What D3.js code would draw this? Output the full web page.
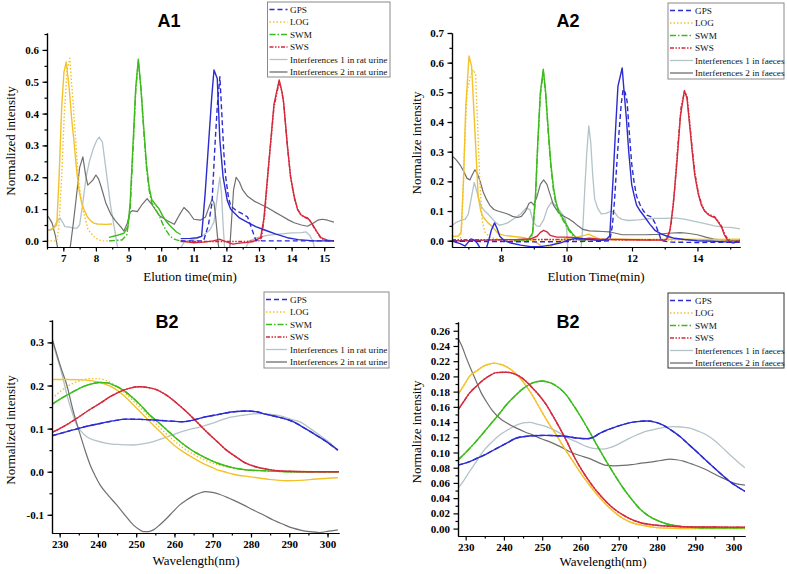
<!DOCTYPE html>
<html><head><meta charset="utf-8">
<script src="https://cdn.jsdelivr.net/npm/d3@7"></script>
<style>body{margin:0;background:#fff} text{font-family:"Liberation Serif","Times New Roman",serif}</style>
</head><body>
<svg id="c" width="787" height="574"></svg>
<script>
// ---------- DATA ----------
const legendUrine = ["GPS","LOG","SWM","SWS","Interferences 1 in rat urine","Interferences 2 in rat urine"];
const legendFaeces = ["GPS","LOG","SWM","SWS","Interferences 1 in faeces","Interferences 2 in faeces"];
const seriesKeys = ["GPS","LOG","SWM","SWS","INT1","INT2"];

const a1XTicks = [7,8,9,10,11,12,13,14,15];
const a1YTicks = [0,0.1,0.2,0.3,0.4,0.5,0.6];
const a2XTicks = [8,10,12,14];
const a2YTicks = [0,0.1,0.2,0.3,0.4,0.5,0.6,0.7];
const bXTicks = [230,240,250,260,270,280,290,300];
const b1YTicks = [-0.1,0,0.1,0.2,0.3];
const b2YTicks = [0,0.02,0.04,0.06,0.08,0.10,0.12,0.14,0.16,0.18,0.20,0.22,0.24,0.26];

// A1 (rat urine chromatograms)
const a1_LOG = [[6.5,0.034],[6.6,0.036],[6.7,0.04],[6.8,0.05],[6.87,0.2],[6.95,0.42],[7.02,0.53],[7.09,0.562],[7.18,0.48],[7.26,0.38],[7.33,0.31],[7.41,0.22],[7.48,0.16],[7.56,0.12],[7.64,0.097],[7.74,0.075],[7.84,0.063],[7.94,0.056],[8.04,0.053],[8.3,0.052],[8.5,0.053]];
const a1_LOG_std = [[6.5,0.0],[6.8,0.0],[6.86,0.04],[6.95,0.2],[7.03,0.4],[7.12,0.54],[7.2,0.574],[7.25,0.5],[7.29,0.45],[7.37,0.33],[7.45,0.21],[7.52,0.15],[7.6,0.1],[7.76,0.035],[7.97,0.01],[8.17,0.0],[8.5,0.0]];
const a1_SWM = [[8.4,0.011],[8.6,0.016],[8.86,0.024],[8.98,0.045],[9.05,0.12],[9.15,0.33],[9.22,0.48],[9.3,0.571],[9.38,0.48],[9.47,0.35],[9.55,0.24],[9.63,0.17],[9.71,0.13],[9.82,0.115],[9.94,0.1],[10.04,0.08],[10.14,0.064],[10.25,0.05],[10.35,0.04],[10.47,0.028],[10.6,0.02]];
const a1_SWM_std = [[8.4,0.0],[8.8,0.003],[8.95,0.02],[9.05,0.1],[9.15,0.31],[9.22,0.47],[9.3,0.565],[9.38,0.48],[9.47,0.34],[9.55,0.23],[9.63,0.16],[9.71,0.12],[9.82,0.1],[9.94,0.08],[10.04,0.055],[10.14,0.035],[10.25,0.018],[10.35,0.008],[10.47,0.003],[10.6,0.0]];
const a1_GPS = [[10.6,0.007],[10.9,0.008],[11.1,0.01],[11.24,0.014],[11.35,0.15],[11.45,0.3],[11.55,0.45],[11.62,0.537],[11.72,0.51],[11.8,0.317],[11.9,0.2],[12.03,0.126],[12.13,0.1],[12.23,0.089],[12.4,0.072],[12.65,0.058],[12.9,0.045],[13.26,0.031],[13.5,0.022],[13.87,0.01],[14.2,0.004],[14.69,0.0],[15.3,0.0]];
const a1_GPS_std = [[10.6,0.0],[11.3,0.0],[11.45,0.05],[11.56,0.12],[11.65,0.3],[11.72,0.42],[11.8,0.516],[11.86,0.4],[11.92,0.28],[11.98,0.2],[12.06,0.14],[12.13,0.11],[12.3,0.095],[12.44,0.088],[12.55,0.082],[12.65,0.075],[12.72,0.055],[12.8,0.032],[12.9,0.003],[13.1,0.0],[15.3,0.0]];
const a1_SWS = [[10.6,0.0],[10.8,-0.003],[11.0,-0.006],[11.3,-0.004],[11.6,0.0],[11.8,0.005],[12.0,-0.003],[12.2,-0.01],[12.4,-0.007],[12.8,-0.003],[13.05,0.01],[13.15,0.07],[13.3,0.244],[13.46,0.43],[13.62,0.506],[13.7,0.47],[13.75,0.44],[13.87,0.3],[13.97,0.2],[14.08,0.14],[14.18,0.1],[14.28,0.083],[14.4,0.075],[14.49,0.072],[14.57,0.063],[14.64,0.052],[14.77,0.03],[14.9,0.01],[15.1,0.002],[15.3,0.0]];
const a1_SWS_std = [[10.6,-0.002],[11.5,-0.002],[12.5,-0.002],[13.0,0.0],[13.08,0.01],[13.17,0.08],[13.3,0.24],[13.46,0.42],[13.62,0.5],[13.7,0.47],[13.76,0.43],[13.87,0.3],[13.97,0.2],[14.08,0.135],[14.18,0.1],[14.28,0.082],[14.4,0.074],[14.49,0.07],[14.57,0.062],[14.64,0.05],[14.77,0.028],[14.9,0.008],[15.1,0.0],[15.3,0.0]];
const a1_INT1 = [[6.5,0.035],[6.6,0.033],[6.7,0.04],[6.8,0.06],[6.9,0.072],[6.97,0.06],[7.05,0.045],[7.2,0.043],[7.3,0.04],[7.42,0.04],[7.5,0.05],[7.6,0.12],[7.7,0.2],[7.8,0.25],[7.92,0.29],[8.02,0.315],[8.1,0.326],[8.2,0.31],[8.3,0.23],[8.45,0.11],[8.6,0.02],[8.68,-0.03],null,
  [10.55,-0.03],[10.7,-0.005],[10.9,0.003],[11.1,0.008],[11.3,0.018],[11.5,0.035],[11.62,0.06],[11.72,0.14],[11.8,0.2],[11.85,0.15],[11.9,0.05],[11.95,-0.03],null,
  [12.55,-0.03],[12.7,0.0],[13.0,0.012],[13.3,0.018],[13.7,0.022],[14.0,0.025],[14.3,0.026],[14.45,0.028],[14.55,0.018],[14.65,0.0],[14.72,-0.03]];
const a1_INT2 = [[6.5,0.081],[6.58,0.07],[6.66,0.055],[6.76,0.015],[6.84,-0.03],null,
  [7.2,-0.03],[7.3,0.05],[7.38,0.12],[7.5,0.23],[7.6,0.264],[7.68,0.21],[7.75,0.175],[7.9,0.19],[8.0,0.207],[8.08,0.195],[8.16,0.17],[8.3,0.12],[8.45,0.085],[8.6,0.063],[8.77,0.043],[8.86,0.031],[8.96,0.055],[9.05,0.09],[9.12,0.095],[9.27,0.092],[9.42,0.115],[9.57,0.133],[9.73,0.112],[9.94,0.08],[10.19,0.063],[10.4,0.052],[10.55,0.08],[10.7,0.105],[10.85,0.09],[11.0,0.068],[11.2,0.065],[11.36,0.075],[11.48,0.11],[11.56,0.13],[11.62,0.12],[11.67,0.077],[11.74,0.0],[11.78,-0.03],null,
  [12.1,-0.03],[12.15,0.05],[12.22,0.16],[12.3,0.2],[12.4,0.185],[12.5,0.16],[12.65,0.14],[12.85,0.125],[13.05,0.115],[13.25,0.105],[13.46,0.092],[13.7,0.078],[13.9,0.066],[14.08,0.057],[14.3,0.05],[14.49,0.046],[14.65,0.055],[14.8,0.065],[14.95,0.068],[15.1,0.065],[15.3,0.059]];

// A2 (faeces chromatograms)
const a2_LOG = [[6.5,0.014],[6.7,0.016],[6.78,0.03],[6.85,0.2],[6.92,0.45],[7.02,0.623],[7.1,0.587],[7.2,0.37],[7.3,0.15],[7.38,0.1],[7.45,0.08],[7.6,0.06],[7.71,0.05],[7.91,0.024],[8.1,0.018],[8.32,0.015],[8.72,0.01],[8.97,0.0],[9.13,-0.01],[9.3,-0.025],[9.5,-0.02],[9.73,-0.005],[10.04,0.01],[10.3,0.012],[10.55,0.018],[10.68,0.022],[10.8,0.015],[11.0,0.006],[11.5,0.005],[12.5,0.004],[13.5,0.005],[14.5,0.004],[15.3,0.005]];
const a2_LOG_std = [[6.5,0.0],[6.75,0.0],[6.8,0.05],[6.88,0.3],[6.96,0.5],[7.05,0.55],[7.15,0.576],[7.22,0.56],[7.28,0.4],[7.35,0.2],[7.42,0.07],[7.5,0.03],[7.65,0.012],[7.9,0.005],[8.5,0.003],[9.5,0.003],[10.5,0.003],[11.5,0.002],[12.5,0.002],[13.5,0.002],[14.5,0.002],[15.3,0.003]];
const a2_SWM = [[8.4,0.0],[8.6,0.002],[8.83,0.004],[8.96,0.025],[9.05,0.15],[9.12,0.33],[9.2,0.5],[9.29,0.578],[9.36,0.5],[9.45,0.36],[9.52,0.26],[9.6,0.18],[9.68,0.13],[9.76,0.1],[9.86,0.08],[9.97,0.06],[10.07,0.04],[10.17,0.025],[10.28,0.012],[10.38,0.005],[10.5,0.002],[10.6,0.0]];
const a2_SWM_std = [[8.4,0.0],[8.83,0.0],[8.96,0.02],[9.05,0.14],[9.12,0.32],[9.2,0.49],[9.29,0.57],[9.36,0.5],[9.45,0.35],[9.52,0.25],[9.6,0.17],[9.68,0.12],[9.76,0.095],[9.86,0.075],[9.97,0.055],[10.07,0.035],[10.17,0.02],[10.28,0.01],[10.38,0.003],[10.6,0.0]];
const a2_GPS = [[6.5,0.0],[6.6,-0.005],[6.75,-0.01],[6.9,-0.018],[7.0,-0.005],[7.08,0.006],[7.18,0.002],[7.28,-0.01],[7.36,-0.025],[7.45,-0.03],[7.55,-0.025],[7.62,0.0],[7.7,0.035],[7.8,0.06],[7.88,0.04],[7.96,0.015],[8.1,0.0],[8.3,-0.008],[8.6,-0.015],[8.9,-0.02],[9.2,-0.02],[9.5,-0.015],[9.8,-0.008],[10.0,0.0],[10.2,0.006],[10.4,0.008],[10.6,0.005],[10.8,0.003],[11.0,0.0],[11.2,0.003],[11.32,0.016],[11.42,0.205],[11.5,0.38],[11.57,0.52],[11.7,0.582],[11.76,0.5],[11.83,0.41],[11.9,0.3],[11.99,0.19],[12.07,0.15],[12.14,0.12],[12.25,0.1],[12.4,0.078],[12.55,0.055],[12.7,0.035],[12.9,0.022],[13.1,0.014],[13.3,0.008],[13.6,0.004],[14.0,0.0],[14.5,-0.002],[15.0,-0.005],[15.3,-0.005]];
const a2_GPS_std = [[6.5,-0.002],[8.0,-0.003],[9.0,-0.004],[10.0,-0.003],[11.0,-0.002],[11.32,0.0],[11.4,0.05],[11.47,0.14],[11.53,0.25],[11.6,0.36],[11.67,0.46],[11.73,0.511],[11.79,0.5],[11.85,0.47],[11.92,0.36],[11.99,0.26],[12.06,0.2],[12.14,0.15],[12.25,0.12],[12.35,0.1],[12.47,0.085],[12.6,0.08],[12.7,0.06],[12.8,0.03],[12.9,0.0],[13.2,-0.005],[14.0,-0.006],[15.3,-0.005]];
const a2_SWS = [[6.5,0.0],[7.0,0.0],[7.5,0.002],[8.0,0.003],[8.5,0.004],[8.9,0.006],[9.1,0.015],[9.2,0.028],[9.3,0.035],[9.4,0.03],[9.5,0.018],[9.7,0.012],[10.0,0.012],[10.3,0.01],[10.5,0.006],[10.7,0.008],[11.0,0.005],[11.5,0.004],[12.0,0.003],[12.5,0.002],[13.0,0.002],[13.05,0.004],[13.16,0.034],[13.26,0.12],[13.37,0.26],[13.48,0.42],[13.6,0.506],[13.68,0.48],[13.77,0.38],[13.85,0.29],[13.92,0.22],[14.02,0.16],[14.12,0.12],[14.22,0.1],[14.33,0.088],[14.43,0.082],[14.53,0.078],[14.62,0.065],[14.74,0.045],[14.82,0.02],[14.9,0.005],[15.0,-0.005],[15.1,-0.008],[15.2,-0.004],[15.3,0.0]];
const a2_SWS_std = [[6.5,0.003],[8,0.003],[9,0.004],[10,0.004],[11,0.004],[12,0.003],[13.0,0.003],[13.1,0.01],[13.2,0.06],[13.3,0.17],[13.4,0.32],[13.5,0.45],[13.6,0.5],[13.68,0.49],[13.77,0.39],[13.85,0.3],[13.92,0.23],[14.02,0.165],[14.12,0.125],[14.22,0.1],[14.33,0.09],[14.43,0.085],[14.53,0.08],[14.62,0.068],[14.74,0.048],[14.82,0.025],[14.9,0.01],[15.0,0.0],[15.1,-0.005],[15.3,0.002]];
const a2_INT1 = [[6.5,0.05],[6.6,0.06],[6.7,0.065],[6.8,0.07],[6.9,0.072],[7.0,0.09],[7.1,0.15],[7.18,0.196],[7.25,0.17],[7.32,0.14],[7.4,0.115],[7.5,0.1],[7.6,0.09],[7.72,0.075],[7.85,0.06],[7.95,0.052],[8.06,0.055],[8.2,0.06],[8.4,0.075],[8.6,0.09],[8.77,0.11],[8.88,0.105],[8.98,0.065],[9.08,0.05],[9.18,0.048],[9.3,0.07],[9.42,0.11],[9.54,0.13],[9.65,0.12],[9.8,0.1],[9.9,0.085],[9.97,0.07],[10.01,0.03],[10.04,-0.03],null,
  [10.44,-0.03],[10.5,0.05],[10.56,0.18],[10.62,0.3],[10.68,0.387],[10.74,0.33],[10.8,0.22],[10.86,0.14],[10.95,0.11],[11.06,0.09],[11.2,0.092],[11.37,0.1],[11.47,0.095],[11.57,0.08],[11.7,0.072],[11.88,0.068],[12.2,0.07],[12.5,0.074],[12.7,0.075],[13.0,0.075],[13.3,0.077],[13.6,0.073],[13.91,0.065],[14.2,0.058],[14.52,0.05],[14.8,0.046],[15.0,0.045],[15.3,0.04]];
const a2_INT2 = [[6.5,0.285],[6.58,0.278],[6.66,0.268],[6.75,0.255],[6.85,0.235],[6.96,0.21],[7.05,0.205],[7.12,0.222],[7.2,0.239],[7.28,0.225],[7.36,0.2],[7.45,0.165],[7.55,0.14],[7.65,0.12],[7.78,0.105],[7.9,0.1],[8.05,0.095],[8.2,0.09],[8.35,0.082],[8.5,0.078],[8.62,0.082],[8.75,0.1],[8.85,0.125],[8.92,0.13],[9.0,0.12],[9.1,0.15],[9.2,0.19],[9.3,0.205],[9.4,0.19],[9.5,0.155],[9.6,0.12],[9.75,0.095],[9.9,0.083],[10.05,0.075],[10.2,0.064],[10.35,0.05],[10.5,0.038],[10.7,0.033],[10.9,0.032],[11.1,0.031],[11.3,0.03],[11.5,0.025],[11.7,0.02],[12.0,0.02],[12.4,0.02],[12.76,0.021],[13.1,0.025],[13.47,0.027],[13.7,0.025],[14.0,0.02],[14.25,0.012],[14.5,0.005],[14.8,0.002],[15.3,0.0]];

// B1 (rat urine spectra)
const b1_GPS = [[228,0.0835],[231.9,0.093],[236,0.103],[240.6,0.112],[244,0.118],[247.5,0.122],[251,0.1215],[254.5,0.12],[258,0.118],[262.3,0.116],[265,0.12],[267.5,0.126],[271,0.132],[275.4,0.139],[278.8,0.141],[281.5,0.139],[284,0.133],[287.5,0.126],[291,0.116],[294,0.101],[297,0.085],[300,0.068],[302.7,0.05]];
const b1_LOG = [[228,0.214],[232,0.214],[236.3,0.213],[240.6,0.207],[244.9,0.19],[247,0.175],[249.3,0.155],[251.5,0.135],[253.6,0.116],[256,0.095],[258,0.077],[260,0.061],[262.3,0.046],[264.5,0.034],[266.7,0.023],[269,0.013],[271,0.005],[273,0.0],[275.4,-0.006],[280,-0.012],[284,-0.017],[289.3,-0.021],[293,-0.02],[297,-0.017],[302.7,-0.014]];
const b1_LOG_std = [[228,0.17],[230,0.185],[232,0.198],[234,0.207],[236,0.213],[238,0.216],[240,0.216],[242,0.212],[244.5,0.2],[247,0.183],[249.5,0.162],[252,0.14],[254.5,0.117],[257,0.095],[259.5,0.075],[262,0.057],[265,0.04],[268,0.027],[271,0.017],[275,0.009],[280,0.004],[285,0.002],[290,0.001],[303,0.0]];
const b1_SWM = [[228,0.156],[230,0.168],[232,0.178],[234,0.188],[236.3,0.198],[238.5,0.204],[240.6,0.207],[242.5,0.206],[244.1,0.201],[246.5,0.19],[249.3,0.17],[251.5,0.151],[253.6,0.131],[256,0.113],[258,0.097],[260.5,0.077],[263.2,0.058],[265.8,0.043],[268.4,0.031],[271.5,0.019],[275.4,0.009],[279,0.004],[284,0.002],[290,0.0],[303,0.0]];
const b1_SWS = [[228,0.091],[230,0.1],[232,0.11],[234.5,0.124],[237.5,0.142],[240.6,0.159],[243.2,0.174],[245.8,0.186],[248.4,0.194],[251,0.197],[253.2,0.195],[255.4,0.19],[258,0.177],[260.6,0.159],[262.8,0.142],[264.9,0.124],[267,0.105],[269.3,0.085],[271.5,0.067],[273.6,0.05],[276,0.035],[278,0.023],[281,0.012],[284,0.006],[289.3,0.001],[295,0.0],[303,0.0]];
const b1_INT1 = [[228,0.305],[229,0.275],[230.2,0.24],[231,0.212],[231.9,0.178],[233,0.145],[234.5,0.108],[235.8,0.092],[237.1,0.081],[239.5,0.072],[242.3,0.066],[245.8,0.063],[249.3,0.062],[252,0.065],[254.5,0.07],[257.5,0.079],[260.6,0.089],[263.5,0.097],[266.7,0.104],[270,0.113],[273.6,0.124],[278,0.131],[282.3,0.135],[285.5,0.133],[288.4,0.128],[291,0.12],[292.7,0.116],[295.5,0.1],[297.9,0.085],[300.5,0.068],[302.7,0.05]];
const b1_INT2 = [[228,0.31],[229,0.28],[230.2,0.245],[231.9,0.2],[233.5,0.142],[235.4,0.085],[236.7,0.048],[238,0.015],[239.2,-0.008],[240.6,-0.031],[242.7,-0.055],[244.9,-0.077],[247,-0.1],[249.3,-0.124],[250.6,-0.133],[251.9,-0.139],[253.2,-0.139],[254.5,-0.135],[256.2,-0.123],[258,-0.108],[259.7,-0.092],[261.4,-0.077],[263.1,-0.066],[264.9,-0.056],[266.5,-0.05],[268,-0.046],[269.9,-0.048],[271.9,-0.053],[273.6,-0.059],[275.4,-0.066],[278,-0.077],[280.6,-0.089],[283.2,-0.1],[285.8,-0.112],[288.4,-0.122],[291,-0.131],[293.2,-0.136],[295.3,-0.139],[297.9,-0.141],[300.3,-0.138],[302.7,-0.135]];

// B2 (faeces spectra)
const b2_GPS = [[228,0.0834],[230.5,0.087],[232.8,0.092],[235.4,0.098],[238,0.105],[240.6,0.112],[243.3,0.119],[245.5,0.121],[247.6,0.122],[250.6,0.1225],[253.7,0.122],[256.4,0.121],[259,0.119],[261.6,0.118],[263.3,0.12],[265,0.125],[267.2,0.13],[269.4,0.134],[272,0.138],[274.7,0.1405],[277.3,0.1414],[279.5,0.14],[281.6,0.136],[283.8,0.129],[286,0.121],[288.2,0.111],[290.4,0.101],[292.5,0.091],[294.7,0.081],[296.9,0.071],[299.1,0.0615],[301,0.055],[303,0.049]];
const b2_LOG = [[228,0.176],[229.5,0.188],[231,0.2],[232.8,0.207],[234.5,0.213],[236,0.216],[237.6,0.2174],[239,0.216],[240.6,0.213],[242.8,0.205],[245,0.193],[247.2,0.177],[249.4,0.158],[251.5,0.14],[253.7,0.123],[255.9,0.105],[258.1,0.088],[260.2,0.072],[262.4,0.057],[264.6,0.043],[266.8,0.031],[269,0.021],[271.2,0.013],[273.3,0.008],[275.5,0.005],[279.9,0.0013],[284,0.0005],[288.6,0.0],[303,0.0]];
const b2_SWM = [[228,0.09],[230,0.1],[231.9,0.11],[234,0.122],[236.3,0.136],[238.5,0.149],[240.6,0.1625],[242.8,0.174],[245,0.184],[246.8,0.19],[248.5,0.193],[250,0.194],[251.1,0.193],[252.9,0.19],[254.6,0.184],[256.4,0.175],[258.1,0.1625],[260.2,0.146],[262.4,0.127],[264.6,0.107],[266.8,0.088],[269,0.07],[271.2,0.053],[273.3,0.039],[275.5,0.026],[277.7,0.017],[279.9,0.011],[282,0.007],[284.2,0.0044],[288.6,0.0018],[295,0.001],[303,0.001]];
const b2_SWS = [[228,0.156],[229.5,0.167],[231,0.178],[232.8,0.187],[234.5,0.195],[236.3,0.201],[238,0.205],[240.6,0.2055],[242.3,0.204],[244.1,0.2],[245.9,0.193],[247.6,0.184],[249.4,0.174],[251.1,0.1625],[252.8,0.148],[254.6,0.132],[256.4,0.115],[258.1,0.097],[260.2,0.078],[262.4,0.0615],[264.6,0.047],[266.8,0.035],[269,0.025],[271.2,0.0176],[273.3,0.012],[275.5,0.008],[279.9,0.0044],[284,0.003],[288.6,0.0022],[295,0.002],[303,0.0018]];
const b2_INT1 = [[228,0.053],[229.5,0.063],[231,0.075],[232.8,0.088],[234.5,0.101],[236.7,0.113],[238.9,0.123],[241.1,0.13],[243.3,0.136],[245,0.139],[246.7,0.1397],[248.9,0.137],[251.1,0.134],[253.3,0.129],[255.5,0.123],[257.6,0.117],[259.8,0.112],[261.5,0.108],[263.3,0.1054],[265.9,0.1045],[268.1,0.107],[270.3,0.112],[272.5,0.118],[274.7,0.123],[277.3,0.128],[279.9,0.131],[282,0.133],[284.2,0.134],[286.4,0.1335],[288.6,0.132],[290.8,0.128],[293,0.123],[295.2,0.115],[297.3,0.1054],[299.5,0.095],[301.3,0.087],[303,0.08]];
const b2_INT2 = [[228,0.25],[229,0.24],[230.2,0.224],[231.5,0.208],[232.8,0.193],[234,0.179],[235.4,0.167],[237,0.155],[238.9,0.145],[241,0.138],[243.3,0.132],[245.5,0.127],[247.6,0.123],[249.8,0.118],[252,0.114],[254.6,0.108],[257.2,0.101],[259.8,0.096],[262.4,0.092],[264.6,0.087],[266.8,0.083],[269,0.0825],[271.2,0.083],[273.3,0.084],[275.5,0.0856],[277.7,0.087],[279.9,0.0887],[281.6,0.09],[283.4,0.0913],[285.1,0.0905],[286.9,0.0887],[289,0.085],[291.2,0.081],[293.4,0.076],[295.6,0.07],[297.8,0.065],[299.9,0.06],[301.5,0.058],[303,0.057]];

// ---------- STYLE ----------
const colors = {GPS:"#2b2bd0", LOG:"#f3c22a", SWM:"#3cbc1c", SWS:"#d42a3c", INT1:"#b3c3c7", INT2:"#6f6f6f"};
const dashes = {GPS:"5,3", LOG:"1.5,2", SWM:"6,2,1.5,2", SWS:"4,1.5,1.5,1.5,1.5,1.5", INT1:null, INT2:null};
const serif = '"Liberation Serif","Times New Roman",serif';
const sans = '"Liberation Sans",Arial,sans-serif';
const svg = d3.select("#c");

function panel(cfg) {
  const g = svg.append("g");
  const x = d3.scaleLinear().domain(cfg.xDomain).range([cfg.left, cfg.right]);
  const y = d3.scaleLinear().domain(cfg.yDomain).range([cfg.bottom, cfg.top]);
  const clipId = "clip" + cfg.id;
  svg.append("clipPath").attr("id", clipId).append("rect")
    .attr("x", cfg.left).attr("y", cfg.top - 30)
    .attr("width", cfg.right - cfg.left).attr("height", cfg.bottom - cfg.top + 30);
  const line = d3.line().defined(d => d !== null).x(d => x(d[0])).y(d => y(d[1])).curve(cfg.curve);
  const lg = g.append("g").attr("clip-path", `url(#${clipId})`);
  cfg.series.forEach(s => {
    lg.append("path").datum(s.data).attr("d", line)
      .attr("fill", "none").attr("stroke", colors[s.key])
      .attr("stroke-width", s.w || 1.4)
      .attr("stroke-linejoin", "round")
      .attr("stroke-dasharray", s.dash ? dashes[s.key] : null);
  });
  g.append("g").attr("transform", `translate(0,${cfg.bottom})`)
    .call(d3.axisBottom(x).tickValues(cfg.xMinor).tickSize(2.5).tickFormat("").tickSizeOuter(0));
  g.append("g").attr("transform", `translate(${cfg.left},0)`)
    .call(d3.axisLeft(y).tickValues(cfg.yMinor).tickSize(2.5).tickFormat("").tickSizeOuter(0));
  g.append("g").attr("transform", `translate(0,${cfg.bottom})`)
    .call(d3.axisBottom(x).tickValues(cfg.xTicks).tickSize(4.5).tickPadding(3).tickSizeOuter(0).tickFormat(d => String(d)));
  g.append("g").attr("transform", `translate(${cfg.left},0)`)
    .call(d3.axisLeft(y).tickValues(cfg.yTicks).tickSize(4.5).tickPadding(3.5).tickSizeOuter(0).tickFormat(d => d.toFixed(cfg.yDec)));
  g.selectAll(".domain, .tick line").attr("stroke", "#000").attr("stroke-width", 1.2);
  g.selectAll(".tick text").style("font-family", serif).style("font-weight", "bold")
    .style("font-size", (cfg.tickFont || 11) + "px").attr("fill", "#000");
  g.append("text").attr("x", cfg.xTitlePos[0]).attr("y", cfg.xTitlePos[1]).attr("dy", "0.35em")
    .attr("text-anchor", "middle").style("font-family", serif).style("font-size", "13px").text(cfg.xTitle);
  g.append("text").attr("transform", `translate(${cfg.yTitlePos[0]},${cfg.yTitlePos[1]}) rotate(-90)`)
    .attr("dy", "0.35em").attr("text-anchor", "middle").style("font-family", serif).style("font-size", "13px").text(cfg.yTitle);
  g.append("text").attr("x", cfg.titlePos[0]).attr("y", cfg.titlePos[1]).attr("text-anchor", "middle")
    .style("font-family", sans).style("font-weight", "bold").style("font-size", "18px").text(cfg.title);
}

function legend(cfg) {
  const g = svg.append("g");
  g.append("rect").attr("x", cfg.x).attr("y", cfg.y).attr("width", cfg.w).attr("height", cfg.h)
    .attr("fill", "#fff").attr("stroke", cfg.border).attr("stroke-width", 1);
  cfg.labels.forEach((lab, i) => {
    const key = seriesKeys[i];
    const cy = cfg.y + 7.5 + i * 12.5;
    g.append("line").attr("x1", cfg.x + 2).attr("x2", cfg.x + cfg.lineEnd).attr("y1", cy).attr("y2", cy)
      .attr("stroke", colors[key]).attr("stroke-width", 1.3).attr("stroke-dasharray", dashes[key]);
    g.append("text").attr("x", cfg.x + cfg.textX).attr("y", cy).attr("dy", "0.35em")
      .style("font-family", serif).style("font-size", "9.2px").attr("fill", "#111").text(lab);
  });
}

const rng = (a, b, s) => d3.range(Math.round((b - a) / s) + 1).map(i => +(a + i * s).toFixed(4));

panel({id:"A1", title:"A1", titlePos:[169,27], left:47, right:334, top:33, bottom:247,
  xDomain:[6.5,15.3], yDomain:[-0.0192,0.6532], curve:d3.curveLinear,
  xTicks:a1XTicks, xMinor:rng(6.5,15,0.5), yTicks:a1YTicks, yMinor:rng(0,0.65,0.05), yDec:1,
  xTitle:"Elution time(min)", xTitlePos:[190,276], yTitle:"Normalized intensity", yTitlePos:[10,141],
  series:[{key:"INT1",data:a1_INT1,w:1.3},{key:"INT2",data:a1_INT2,w:1.2},
    {key:"LOG",data:a1_LOG},{key:"LOG",data:a1_LOG_std,dash:true},
    {key:"SWM",data:a1_SWM},{key:"SWM",data:a1_SWM_std,dash:true},
    {key:"SWS",data:a1_SWS},{key:"SWS",data:a1_SWS_std,dash:true},
    {key:"GPS",data:a1_GPS},{key:"GPS",data:a1_GPS_std,dash:true}]});

panel({id:"A2", title:"A2", titlePos:[568,27], left:452, right:740, top:33, bottom:247,
  xDomain:[6.5,15.3], yDomain:[-0.0213,0.7], curve:d3.curveLinear,
  xTicks:a2XTicks, xMinor:[7,9,11,13,15], yTicks:a2YTicks, yMinor:rng(0,0.7,0.05), yDec:1,
  xTitle:"Elution Time(min)", xTitlePos:[596,276], yTitle:"Normalize intensity", yTitlePos:[416.5,143],
  series:[{key:"INT1",data:a2_INT1,w:1.3},{key:"INT2",data:a2_INT2,w:1.2},
    {key:"LOG",data:a2_LOG},{key:"LOG",data:a2_LOG_std,dash:true},
    {key:"SWM",data:a2_SWM},{key:"SWM",data:a2_SWM_std,dash:true},
    {key:"SWS",data:a2_SWS},{key:"SWS",data:a2_SWS_std,dash:true},
    {key:"GPS",data:a2_GPS},{key:"GPS",data:a2_GPS_std,dash:true}]});

panel({id:"B1", title:"B2", titlePos:[167,328], left:52, right:339, top:320, bottom:533,
  xDomain:[228,303], yDomain:[-0.1422,0.352], curve:d3.curveMonotoneX,
  xTicks:bXTicks, xMinor:rng(230,300,5), yTicks:b1YTicks, yMinor:rng(-0.1,0.35,0.05), yDec:1,
  xTitle:"Wavelength(nm)", xTitlePos:[196,560], yTitle:"Normalized intensity", yTitlePos:[10,430],
  series:[{key:"INT1",data:b1_INT1,w:1.3},{key:"INT2",data:b1_INT2,w:1.2},
    {key:"LOG",data:b1_LOG},{key:"LOG",data:b1_LOG_std,dash:true},
    {key:"SWM",data:b1_SWM},{key:"SWM",data:b1_SWM,dash:true},
    {key:"SWS",data:b1_SWS},{key:"SWS",data:b1_SWS,dash:true},
    {key:"GPS",data:b1_GPS},{key:"GPS",data:b1_GPS,dash:true}]});

panel({id:"B2", title:"B2", titlePos:[568,328], left:458, right:745, top:322, bottom:536,
  xDomain:[228,303], yDomain:[-0.00975,0.2715], curve:d3.curveMonotoneX,
  xTicks:bXTicks, xMinor:rng(235,295,10), yTicks:b2YTicks, yMinor:rng(0.01,0.27,0.02), yDec:2,
  xTitle:"Wavelength(nm)", xTitlePos:[603,561], yTitle:"Normalize intensity", yTitlePos:[416.5,432],
  series:[{key:"INT1",data:b2_INT1,w:1.3},{key:"INT2",data:b2_INT2,w:1.2},
    {key:"LOG",data:b2_LOG},{key:"LOG",data:b2_LOG,dash:true},
    {key:"SWM",data:b2_SWM},{key:"SWM",data:b2_SWM,dash:true},
    {key:"SWS",data:b2_SWS},{key:"SWS",data:b2_SWS,dash:true},
    {key:"GPS",data:b2_GPS},{key:"GPS",data:b2_GPS,dash:true}]});

legend({x:267.5, y:2, w:122.5, h:75, labels:legendUrine, border:"#8a8a8a", lineEnd:20, textX:22.5});
legend({x:668, y:3, w:116, h:76, labels:legendFaeces, border:"#8a8a8a", lineEnd:25, textX:27});
legend({x:264, y:292, w:125, h:76, labels:legendUrine, border:"#8a8a8a", lineEnd:23, textX:26});
legend({x:668, y:293, w:116, h:75, labels:legendFaeces, border:"#333", lineEnd:25, textX:27});
</script>
</body></html>
